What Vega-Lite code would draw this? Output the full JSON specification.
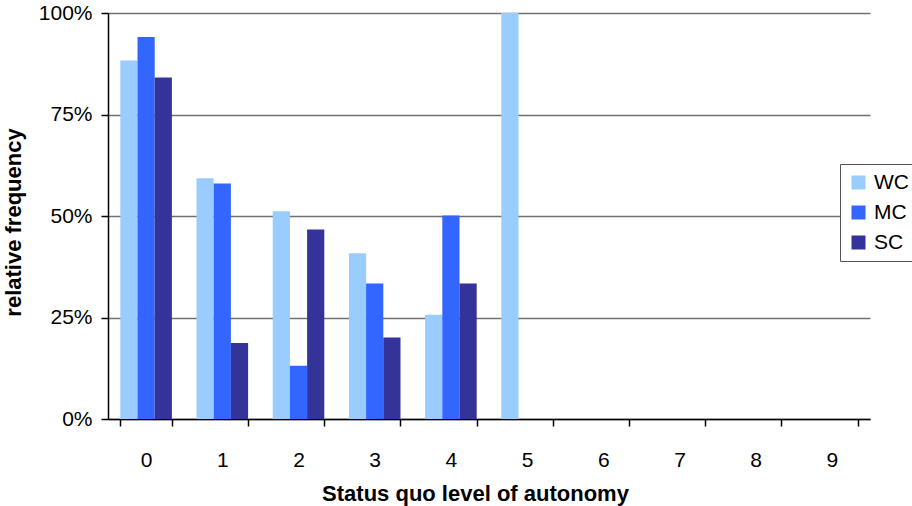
{
  "$schema": "https://vega.github.io/schema/vega-lite/v6.json",
  "width": 762,
  "height": 406,
  "autosize": {"type": "none"},
  "padding": {"left": 108, "top": 13, "right": 42, "bottom": 87},
  "background": "white",
  "config": {
    "font": "Liberation Sans",
    "view": {"stroke": null},
    "axis": {"labelFont": "Liberation Sans", "titleFont": "Liberation Sans"},
    "legend": {"labelFont": "Liberation Sans"}
  },
  "data": {
    "values": [
      {"level": "0", "group": "WC", "freq": 0.883},
      {"level": "0", "group": "MC", "freq": 0.941},
      {"level": "0", "group": "SC", "freq": 0.841},
      {"level": "1", "group": "WC", "freq": 0.593},
      {"level": "1", "group": "MC", "freq": 0.580},
      {"level": "1", "group": "SC", "freq": 0.187},
      {"level": "2", "group": "WC", "freq": 0.512},
      {"level": "2", "group": "MC", "freq": 0.131},
      {"level": "2", "group": "SC", "freq": 0.467},
      {"level": "3", "group": "WC", "freq": 0.408},
      {"level": "3", "group": "MC", "freq": 0.334},
      {"level": "3", "group": "SC", "freq": 0.201},
      {"level": "4", "group": "WC", "freq": 0.257},
      {"level": "4", "group": "MC", "freq": 0.501},
      {"level": "4", "group": "SC", "freq": 0.334},
      {"level": "5", "group": "WC", "freq": 1.0}
    ]
  },
  "mark": {"type": "bar"},
  "encoding": {
    "x": {
      "field": "level",
      "type": "nominal",
      "scale": {
        "domain": ["0", "1", "2", "3", "4", "5", "6", "7", "8", "9"],
        "paddingInner": 0.323,
        "paddingOuter": 0.1615
      },
      "axis": {
        "title": "Status quo level of autonomy",
        "titleFontSize": 22,
        "titleFontWeight": "bold",
        "titleColor": "black",
        "titleBaseline": "alphabetic",
        "titleX": 367,
        "titleY": 81,
        "labelAngle": 0,
        "labelFontSize": 21,
        "labelColor": "black",
        "labelPadding": 23,
        "tickBand": "extent",
        "tickSize": 7,
        "tickColor": "black",
        "tickWidth": 1.5,
        "domainColor": "black",
        "domainWidth": 1.5,
        "grid": false
      }
    },
    "xOffset": {
      "field": "group",
      "type": "nominal",
      "sort": ["WC", "MC", "SC"],
      "scale": {"paddingInner": 0, "paddingOuter": 0}
    },
    "y": {
      "field": "freq",
      "type": "quantitative",
      "scale": {"domain": [0, 1], "nice": false},
      "axis": {
        "title": "relative frequency",
        "titleFontSize": 22,
        "titleFontWeight": "bold",
        "titleColor": "black",
        "titleBaseline": "alphabetic",
        "titleX": -88,
        "titleY": 209,
        "format": "%",
        "values": [0, 0.25, 0.5, 0.75, 1],
        "labelFontSize": 21,
        "labelColor": "black",
        "labelPadding": 9,
        "tickSize": 7,
        "tickColor": "black",
        "tickWidth": 1.5,
        "domainColor": "black",
        "domainWidth": 1.5,
        "grid": true,
        "gridColor": "#707070",
        "gridWidth": 1.5
      }
    },
    "color": {
      "field": "group",
      "type": "nominal",
      "sort": ["WC", "MC", "SC"],
      "scale": {"domain": ["WC", "MC", "SC"], "range": ["#99ccff", "#3366ff", "#333399"]},
      "legend": {
        "title": null,
        "orient": "none",
        "legendX": 732,
        "legendY": 151,
        "symbolType": "square",
        "symbolSize": 196,
        "symbolStrokeWidth": 0,
        "labelFontSize": 21,
        "labelColor": "black",
        "rowPadding": 8,
        "labelOffset": 5,
        "padding": 8,
        "fillColor": "white",
        "strokeColor": "#555555"
      }
    }
  }
}
